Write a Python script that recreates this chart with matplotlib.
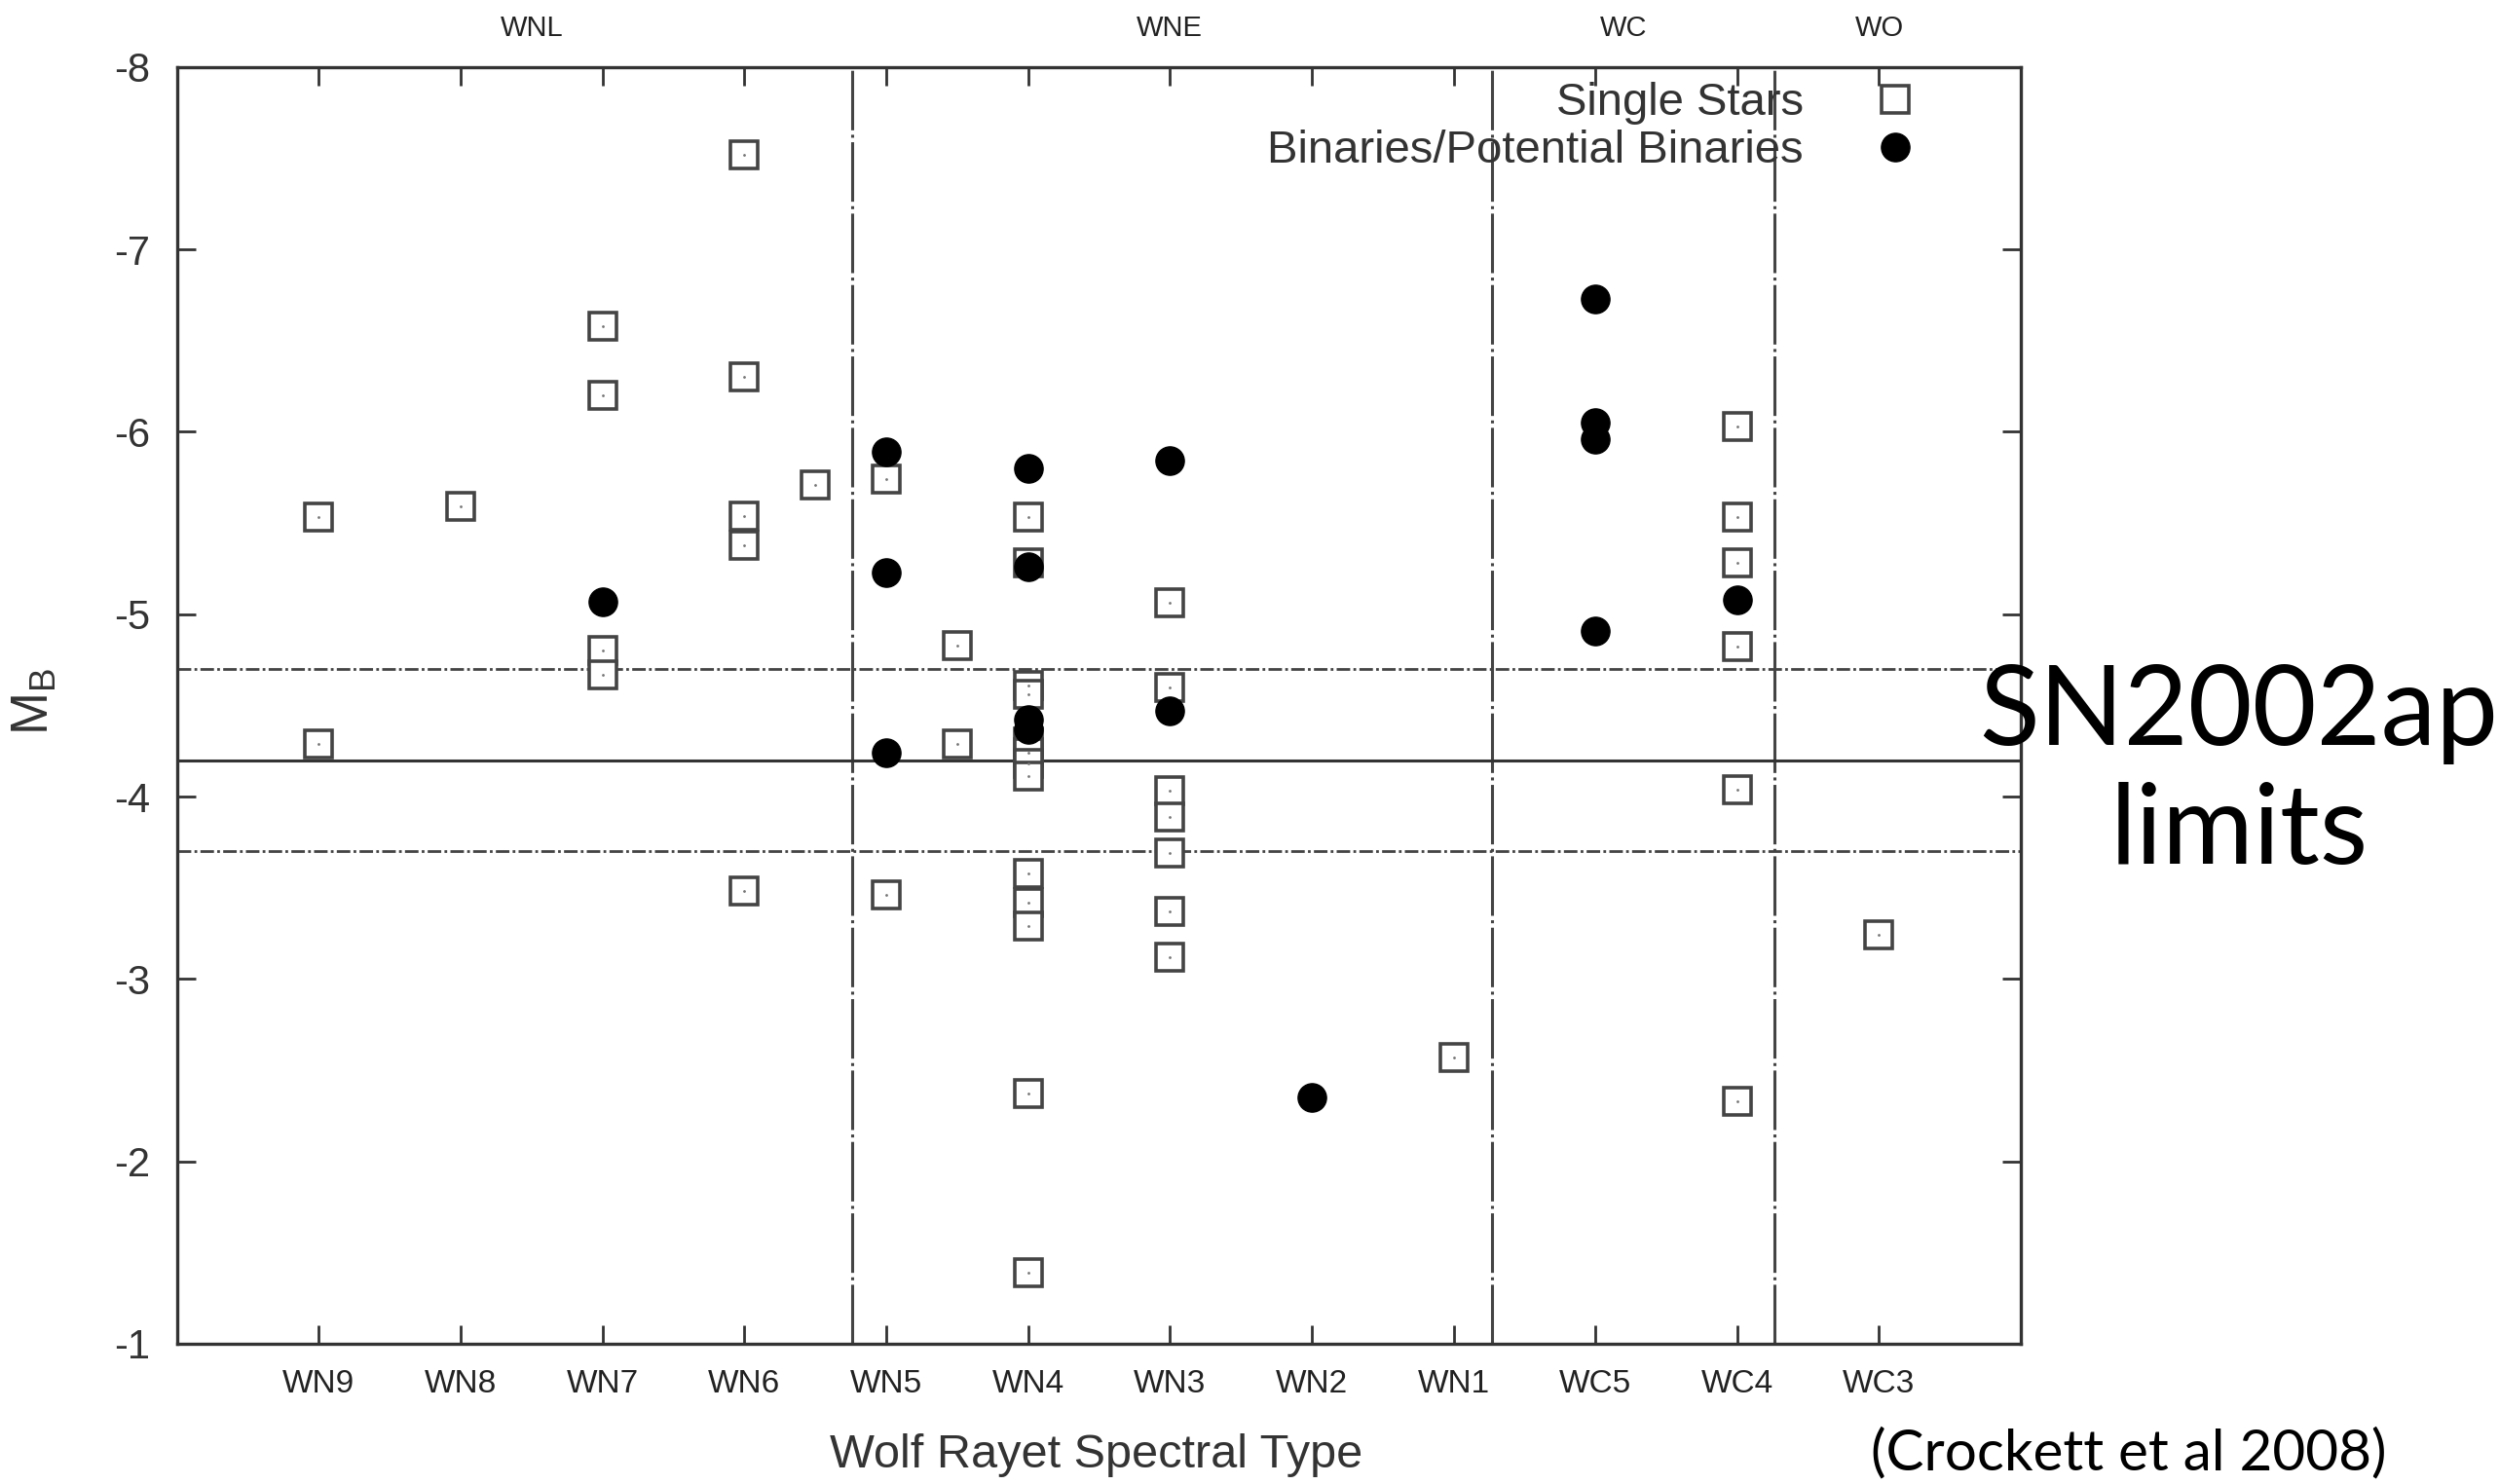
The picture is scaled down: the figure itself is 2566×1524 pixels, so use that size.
import numpy as np
import matplotlib.pyplot as plt
from matplotlib.lines import Line2D

plt.rcParams['font.family'] = ['Liberation Sans', 'DejaVu Sans']
plt.rcParams['mathtext.fontset'] = 'custom'
plt.rcParams['mathtext.rm'] = 'Liberation Sans'
plt.rcParams['axes.unicode_minus'] = False

# spectral types along the x axis (position 1..12)
types = ['WN9', 'WN8', 'WN7', 'WN6', 'WN5', 'WN4', 'WN3', 'WN2', 'WN1', 'WC5', 'WC4', 'WC3']
groups = ['WNL', 'WNE', 'WC', 'WO']
group_pos = [2.5, 7.0, 10.2, 12.0]
group_edges = [4.76, 9.27, 11.26]

# single stars: (type position, M_B)
single_x = [1, 1,
            2,
            3, 3, 3, 3,
            4, 4, 4, 4, 4,
            4.5,
            5, 5,
            5.5, 5.5,
            6, 6, 6, 6, 6, 6, 6, 6, 6, 6, 6, 6, 6,
            7, 7, 7, 7, 7, 7, 7,
            9,
            11, 11, 11, 11, 11, 11,
            12]
single_mb = [-5.53, -4.29,
             -5.59,
             -6.58, -6.20, -4.80, -4.67,
             -7.52, -6.30, -5.54, -5.38, -3.48,
             -5.71,
             -5.74, -3.46,
             -4.83, -4.29,
             -5.53, -5.28, -4.61, -4.56, -4.30, -4.24, -4.18, -4.11, -3.58, -3.42, -3.29, -2.37, -1.39,
             -5.06, -4.60, -4.03, -3.89, -3.69, -3.37, -3.12,
             -2.57,
             -6.03, -5.53, -5.28, -4.82, -4.04, -2.33,
             -3.24]

# binaries / potential binaries
binary_x = [3,
            5, 5, 5,
            6, 6, 6, 6,
            7, 7,
            8,
            10, 10, 10, 10,
            11]
binary_mb = [-5.07,
             -5.89, -5.23, -4.24,
             -5.80, -5.26, -4.42, -4.37,
             -5.84, -4.47,
             -2.35,
             -6.73, -6.05, -5.96, -4.91,
             -5.08]

# SN2002ap limits
sn_limit = -4.2
sn_limit_range = [-4.7, -3.7]

fig = plt.figure(figsize=(25.66, 15.24), dpi=100)
ax = fig.add_axes([0.0708, 0.0945, 0.7379, 0.8604])

ink = '#333333'

for xe in group_edges:
    ax.axvline(xe, color='#444444', lw=2.2, ls=(0, (20, 1.5, 1, 1.5)), zorder=1)
ax.axhline(sn_limit, color=ink, lw=2.2, zorder=1)
for yl in sn_limit_range:
    ax.axhline(yl, color='#444444', lw=2.0, ls=(0, (5, 1.2, 1, 1.2)), zorder=1)

ax.plot(single_x, single_mb, ls='none', marker='s', ms=20, mfc='white',
        mec='#444444', mew=2.6, zorder=3)
ax.plot(single_x, single_mb, ls='none', marker='.', ms=2, color='#777777', zorder=4)
ax.plot(binary_x, binary_mb, ls='none', marker='o', ms=21, color='black', zorder=5)

ax.set_xlim(0, 13)
ax.set_ylim(-1, -8)
ax.set_xticks(range(1, 13))
ax.set_xticklabels(types)
ax.set_yticks(range(-8, 0))
ax.set_yticklabels([str(v) for v in range(-8, 0)])

ax.tick_params(axis='both', direction='in', length=14, width=2, color=ink,
               top=True, right=True)
ax.tick_params(axis='x', labelsize=24, pad=19, labelcolor='#222222')
ax.tick_params(axis='y', labelsize=30, pad=20, labelcolor='#333333')
for s in ax.spines.values():
    s.set_linewidth(2.4)
    s.set_color(ink)

for g, gp in zip(groups, group_pos):
    ax.text(gp, 1.030, g, transform=ax.get_xaxis_transform(), ha='center',
            va='center', fontsize=21, color='#222222')

ax.set_xlabel('Wolf Rayet Spectral Type', fontsize=35, color=ink)
ax.xaxis.set_label_coords(0.4987, -0.070)
ax.set_ylabel(r'M$_{\mathrm{B}}$', fontsize=38, color=ink)
ax.yaxis.set_label_coords(-0.064, 0.503)

handles = [Line2D([], [], ls='none', marker='s', ms=20, mfc='white', mec='#444444', mew=2.6),
           Line2D([], [], ls='none', marker='o', ms=21, color='black')]
ax.legend(handles, ['Single Stars', 'Binaries/Potential Binaries'], loc='upper right',
          bbox_to_anchor=(0.957, 1.006), frameon=False, markerfirst=False,
          fontsize=34, labelcolor='#333333', handlelength=1.0, handletextpad=1.5,
          labelspacing=0.1, borderpad=0.0)

fig.text(0.896, 0.479, 'SN2002ap\nlimits', ha='center', va='center', fontsize=82,
         family='Lato', linespacing=1.22, color='black')
fig.text(0.852, 0.0204, '(Crockett et al 2008)', ha='center', va='center',
         fontsize=42, family='Lato', color='black')

fig.savefig('out.png', dpi=100)
